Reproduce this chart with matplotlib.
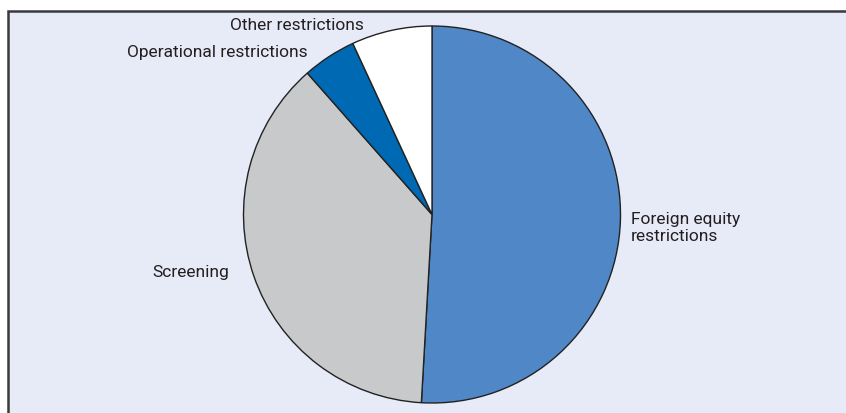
import matplotlib.pyplot as plt
from matplotlib.patches import Rectangle

labels = ["Foreign equity\nrestrictions", "Screening", "Operational restrictions", "Other restrictions"]
shares = [50.9, 37.6, 4.6, 6.9]
colors = ["#4F87C7", "#C8C9CB", "#0069B4", "#FFFFFF"]

W, H = 846, 413
fig = plt.figure(figsize=(W / 100, H / 100), dpi=100)
ax = fig.add_axes([0, 0, 1, 1])

ax.pie(
    shares,
    colors=colors,
    startangle=90,
    counterclock=False,
    center=(432, H - 214.5),
    radius=188.5,
    wedgeprops={"edgecolor": "#222222", "linewidth": 1.0},
)
ax.set_xlim(0, W)
ax.set_ylim(0, H)
ax.set_aspect("auto")
ax.axis("off")

# panel background with dark top/left border
ax.add_patch(Rectangle((8, -5), W + 10, H - 11 + 5, facecolor="#E7EBF7",
                       edgecolor="none", zorder=0))
ax.plot([8, 8, W + 10], [-5, H - 11, H - 11], color="#3A3A3A", linewidth=1.8,
        zorder=1, solid_joinstyle="miter")

font = dict(family=["Roboto", "DejaVu Sans"], fontsize=12.5, color="#231F20")
ax.text(631, H - 228, labels[0], ha="left", va="center", linespacing=1.15, **font)
ax.text(229, H - 272, labels[1], ha="right", va="center", **font)
ax.text(308, H - 52, labels[2], ha="right", va="center", **font)
ax.text(297, H - 26, labels[3], ha="center", va="center", **font)

fig.savefig("out.png", dpi=100)
